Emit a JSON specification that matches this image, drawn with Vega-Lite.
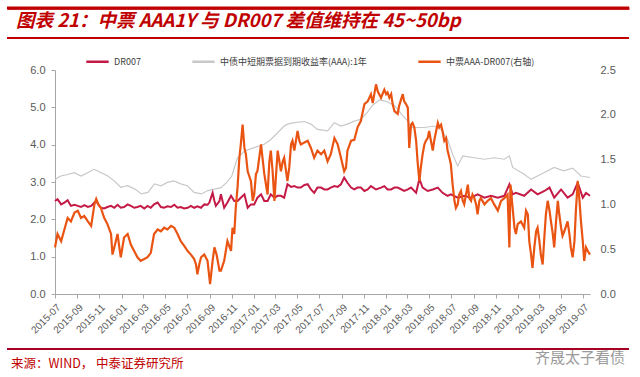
{
  "$schema": "https://vega.github.io/schema/vega-lite/v6.json",
  "background": "white",
  "padding": {"left": 5, "top": 4, "right": 5, "bottom": 0},
  "spacing": 12,
  "config": {"view": {"stroke": null}, "font": "Liberation Sans"},
  "datasets": {
    "aaa": [
      {"d":"2015-07-01","v":3.07},{"d":"2015-07-17","v":3.16},{"d":"2015-08-05","v":3.2},{"d":"2015-08-23","v":3.25},{"d":"2015-09-11","v":3.16},{"d":"2015-09-29","v":3.25},{"d":"2015-10-17","v":3.34},{"d":"2015-11-06","v":3.25},{"d":"2015-11-24","v":3.16},{"d":"2015-12-12","v":3.03},{"d":"2015-12-30","v":2.86},{"d":"2016-01-18","v":2.9},{"d":"2016-02-07","v":2.81},{"d":"2016-02-25","v":2.68},{"d":"2016-03-14","v":2.72},{"d":"2016-04-01","v":2.95},{"d":"2016-04-19","v":2.9},{"d":"2016-05-07","v":2.99},{"d":"2016-05-25","v":3.03},{"d":"2016-06-13","v":2.95},{"d":"2016-07-01","v":2.9},{"d":"2016-07-20","v":2.72},{"d":"2016-08-09","v":2.68},{"d":"2016-08-27","v":2.77},{"d":"2016-09-15","v":2.81},{"d":"2016-10-02","v":2.85},{"d":"2016-10-18","v":2.99},{"d":"2016-11-01","v":3.16},{"d":"2016-11-08","v":3.38},{"d":"2016-11-17","v":3.65},{"d":"2016-12-06","v":3.83},{"d":"2017-01-02","v":3.92},{"d":"2017-01-30","v":4.01},{"d":"2017-02-17","v":4.14},{"d":"2017-03-08","v":4.32},{"d":"2017-03-26","v":4.5},{"d":"2017-04-04","v":4.55},{"d":"2017-04-23","v":4.59},{"d":"2017-05-21","v":4.62},{"d":"2017-06-08","v":4.55},{"d":"2017-06-26","v":4.41},{"d":"2017-07-24","v":4.37},{"d":"2017-08-12","v":4.59},{"d":"2017-08-30","v":4.5},{"d":"2017-09-17","v":4.55},{"d":"2017-10-06","v":4.63},{"d":"2017-10-24","v":4.68},{"d":"2017-11-10","v":4.85},{"d":"2017-11-25","v":5.05},{"d":"2017-12-15","v":5.2},{"d":"2018-01-05","v":5.15},{"d":"2018-01-25","v":5.05},{"d":"2018-02-15","v":4.8},{"d":"2018-03-01","v":4.65},{"d":"2018-03-15","v":4.46},{"d":"2018-04-18","v":4.46},{"d":"2018-05-15","v":4.5},{"d":"2018-06-03","v":4.41},{"d":"2018-06-21","v":4.14},{"d":"2018-07-05","v":3.74},{"d":"2018-07-19","v":3.43},{"d":"2018-08-02","v":3.7},{"d":"2018-09-03","v":3.65},{"d":"2018-10-01","v":3.61},{"d":"2018-10-28","v":3.65},{"d":"2018-11-25","v":3.61},{"d":"2018-12-09","v":3.7},{"d":"2018-12-18","v":3.39},{"d":"2019-01-19","v":3.21},{"d":"2019-02-07","v":3.07},{"d":"2019-03-06","v":3.21},{"d":"2019-04-12","v":3.39},{"d":"2019-05-08","v":3.3},{"d":"2019-06-02","v":3.37},{"d":"2019-06-25","v":3.16},{"d":"2019-07-20","v":3.12}
    ],
    "dr": [
      {"d":"2015-07-01","v":2.49},{"d":"2015-07-08","v":2.54},{"d":"2015-07-18","v":2.4},{"d":"2015-07-27","v":2.45},{"d":"2015-08-05","v":2.51},{"d":"2015-08-14","v":2.36},{"d":"2015-08-24","v":2.39},{"d":"2015-09-02","v":2.36},{"d":"2015-09-11","v":2.33},{"d":"2015-09-20","v":2.38},{"d":"2015-09-30","v":2.33},{"d":"2015-10-09","v":2.36},{"d":"2015-10-18","v":2.45},{"d":"2015-10-23","v":2.49},{"d":"2015-10-29","v":2.39},{"d":"2015-11-05","v":2.31},{"d":"2015-11-14","v":2.29},{"d":"2015-11-23","v":2.33},{"d":"2015-12-03","v":2.36},{"d":"2015-12-12","v":2.31},{"d":"2015-12-21","v":2.39},{"d":"2015-12-30","v":2.31},{"d":"2016-01-08","v":2.33},{"d":"2016-01-18","v":2.4},{"d":"2016-01-27","v":2.36},{"d":"2016-02-05","v":2.31},{"d":"2016-02-14","v":2.33},{"d":"2016-02-23","v":2.36},{"d":"2016-03-04","v":2.29},{"d":"2016-03-13","v":2.36},{"d":"2016-03-22","v":2.31},{"d":"2016-03-31","v":2.4},{"d":"2016-04-10","v":2.45},{"d":"2016-04-19","v":2.33},{"d":"2016-04-28","v":2.31},{"d":"2016-05-07","v":2.35},{"d":"2016-05-17","v":2.33},{"d":"2016-05-26","v":2.39},{"d":"2016-06-04","v":2.31},{"d":"2016-06-13","v":2.33},{"d":"2016-06-22","v":2.29},{"d":"2016-07-02","v":2.31},{"d":"2016-07-11","v":2.36},{"d":"2016-07-20","v":2.31},{"d":"2016-07-29","v":2.35},{"d":"2016-08-08","v":2.31},{"d":"2016-08-17","v":2.4},{"d":"2016-08-26","v":2.39},{"d":"2016-08-31","v":2.45},{"d":"2016-09-09","v":2.71},{"d":"2016-09-14","v":2.49},{"d":"2016-09-18","v":2.36},{"d":"2016-09-28","v":2.49},{"d":"2016-10-02","v":2.67},{"d":"2016-10-11","v":2.31},{"d":"2016-10-20","v":2.45},{"d":"2016-10-30","v":2.63},{"d":"2016-11-08","v":2.49},{"d":"2016-11-17","v":2.49},{"d":"2016-11-26","v":2.58},{"d":"2016-12-06","v":2.67},{"d":"2016-12-15","v":2.31},{"d":"2016-12-24","v":2.4},{"d":"2017-01-02","v":2.4},{"d":"2017-01-11","v":2.58},{"d":"2017-01-21","v":2.67},{"d":"2017-01-30","v":2.49},{"d":"2017-02-08","v":2.49},{"d":"2017-02-17","v":2.67},{"d":"2017-02-27","v":2.58},{"d":"2017-03-08","v":2.63},{"d":"2017-03-17","v":2.63},{"d":"2017-03-26","v":2.58},{"d":"2017-04-04","v":2.94},{"d":"2017-04-14","v":2.87},{"d":"2017-04-23","v":2.89},{"d":"2017-05-02","v":2.85},{"d":"2017-05-11","v":2.85},{"d":"2017-05-21","v":2.92},{"d":"2017-05-30","v":2.94},{"d":"2017-06-08","v":2.8},{"d":"2017-06-17","v":2.71},{"d":"2017-06-26","v":2.85},{"d":"2017-07-06","v":2.85},{"d":"2017-07-15","v":2.8},{"d":"2017-07-24","v":2.8},{"d":"2017-08-02","v":2.85},{"d":"2017-08-12","v":2.89},{"d":"2017-08-21","v":2.87},{"d":"2017-08-30","v":2.94},{"d":"2017-09-08","v":3.12},{"d":"2017-09-17","v":2.98},{"d":"2017-09-27","v":2.85},{"d":"2017-10-06","v":2.8},{"d":"2017-10-15","v":2.85},{"d":"2017-10-24","v":2.85},{"d":"2017-11-03","v":2.76},{"d":"2017-11-12","v":2.8},{"d":"2017-11-21","v":2.89},{"d":"2017-12-05","v":2.8},{"d":"2017-12-19","v":2.85},{"d":"2017-12-28","v":2.89},{"d":"2018-01-06","v":2.8},{"d":"2018-01-16","v":2.8},{"d":"2018-01-25","v":2.85},{"d":"2018-02-03","v":2.85},{"d":"2018-02-21","v":2.76},{"d":"2018-03-03","v":2.8},{"d":"2018-03-12","v":2.85},{"d":"2018-03-26","v":2.71},{"d":"2018-04-04","v":3.08},{"d":"2018-04-13","v":2.85},{"d":"2018-04-27","v":2.76},{"d":"2018-05-11","v":2.8},{"d":"2018-05-25","v":2.85},{"d":"2018-06-07","v":2.71},{"d":"2018-06-21","v":2.63},{"d":"2018-06-30","v":2.67},{"d":"2018-07-19","v":2.58},{"d":"2018-08-06","v":2.63},{"d":"2018-08-25","v":2.58},{"d":"2018-09-12","v":2.67},{"d":"2018-10-01","v":2.58},{"d":"2018-10-19","v":2.63},{"d":"2018-11-07","v":2.58},{"d":"2018-11-25","v":2.63},{"d":"2018-12-09","v":2.94},{"d":"2018-12-18","v":2.67},{"d":"2018-12-27","v":2.71},{"d":"2019-01-19","v":2.63},{"d":"2019-02-07","v":2.8},{"d":"2019-02-25","v":2.67},{"d":"2019-03-16","v":2.76},{"d":"2019-03-30","v":2.85},{"d":"2019-04-12","v":2.58},{"d":"2019-05-01","v":2.8},{"d":"2019-05-19","v":2.58},{"d":"2019-06-02","v":2.67},{"d":"2019-06-16","v":2.98},{"d":"2019-06-30","v":2.58},{"d":"2019-07-09","v":2.71},{"d":"2019-07-20","v":2.63}
    ],
    "sp": [
      {"d":"2015-07-01","v":0.52},{"d":"2015-07-08","v":0.67},{"d":"2015-07-18","v":0.59},{"d":"2015-07-27","v":0.72},{"d":"2015-08-05","v":0.85},{"d":"2015-08-14","v":0.81},{"d":"2015-08-24","v":0.91},{"d":"2015-09-02","v":0.93},{"d":"2015-09-11","v":0.85},{"d":"2015-09-20","v":0.87},{"d":"2015-09-30","v":0.81},{"d":"2015-10-09","v":0.76},{"d":"2015-10-18","v":1.0},{"d":"2015-10-23","v":1.06},{"d":"2015-10-29","v":1.0},{"d":"2015-11-05","v":0.96},{"d":"2015-11-14","v":0.85},{"d":"2015-11-23","v":0.78},{"d":"2015-12-03","v":0.67},{"d":"2015-12-07","v":0.44},{"d":"2015-12-12","v":0.52},{"d":"2015-12-21","v":0.67},{"d":"2015-12-26","v":0.52},{"d":"2015-12-30","v":0.41},{"d":"2016-01-08","v":0.63},{"d":"2016-01-18","v":0.67},{"d":"2016-01-27","v":0.55},{"d":"2016-02-05","v":0.48},{"d":"2016-02-14","v":0.41},{"d":"2016-02-23","v":0.37},{"d":"2016-03-04","v":0.39},{"d":"2016-03-13","v":0.41},{"d":"2016-03-22","v":0.46},{"d":"2016-03-31","v":0.67},{"d":"2016-04-10","v":0.72},{"d":"2016-04-19","v":0.7},{"d":"2016-04-28","v":0.74},{"d":"2016-05-07","v":0.72},{"d":"2016-05-17","v":0.76},{"d":"2016-05-26","v":0.74},{"d":"2016-06-04","v":0.67},{"d":"2016-06-13","v":0.59},{"d":"2016-06-22","v":0.54},{"d":"2016-07-02","v":0.48},{"d":"2016-07-11","v":0.44},{"d":"2016-07-20","v":0.39},{"d":"2016-07-25","v":0.33},{"d":"2016-07-29","v":0.22},{"d":"2016-08-03","v":0.33},{"d":"2016-08-08","v":0.41},{"d":"2016-08-17","v":0.44},{"d":"2016-08-26","v":0.37},{"d":"2016-09-02","v":0.11},{"d":"2016-09-09","v":0.37},{"d":"2016-09-14","v":0.52},{"d":"2016-09-20","v":0.44},{"d":"2016-09-28","v":0.26},{"d":"2016-10-02","v":0.26},{"d":"2016-10-11","v":0.37},{"d":"2016-10-20","v":0.59},{"d":"2016-10-30","v":0.48},{"d":"2016-11-03","v":0.74},{"d":"2016-11-08","v":0.67},{"d":"2016-11-12","v":0.96},{"d":"2016-11-17","v":1.19},{"d":"2016-11-22","v":1.52},{"d":"2016-11-26","v":1.67},{"d":"2016-12-01","v":1.89},{"d":"2016-12-06","v":1.63},{"d":"2016-12-10","v":1.56},{"d":"2016-12-15","v":1.37},{"d":"2016-12-24","v":1.26},{"d":"2016-12-29","v":1.04},{"d":"2017-01-02","v":1.11},{"d":"2017-01-07","v":1.34},{"d":"2017-01-11","v":1.37},{"d":"2017-01-21","v":1.67},{"d":"2017-01-25","v":1.52},{"d":"2017-01-30","v":1.34},{"d":"2017-02-08","v":1.11},{"d":"2017-02-13","v":1.48},{"d":"2017-02-17","v":1.6},{"d":"2017-02-22","v":1.37},{"d":"2017-02-27","v":1.04},{"d":"2017-03-03","v":1.3},{"d":"2017-03-08","v":1.6},{"d":"2017-03-17","v":1.37},{"d":"2017-03-22","v":1.48},{"d":"2017-03-26","v":1.52},{"d":"2017-04-04","v":1.26},{"d":"2017-04-09","v":1.41},{"d":"2017-04-14","v":1.67},{"d":"2017-04-18","v":1.71},{"d":"2017-04-23","v":1.6},{"d":"2017-05-02","v":1.82},{"d":"2017-05-07","v":1.71},{"d":"2017-05-11","v":1.67},{"d":"2017-05-21","v":1.69},{"d":"2017-05-30","v":1.71},{"d":"2017-06-08","v":1.63},{"d":"2017-06-17","v":1.52},{"d":"2017-06-26","v":1.6},{"d":"2017-07-06","v":1.56},{"d":"2017-07-15","v":1.6},{"d":"2017-07-24","v":1.48},{"d":"2017-08-02","v":1.56},{"d":"2017-08-12","v":1.74},{"d":"2017-08-21","v":1.67},{"d":"2017-08-30","v":1.52},{"d":"2017-09-08","v":1.37},{"d":"2017-09-13","v":1.41},{"d":"2017-09-17","v":1.6},{"d":"2017-09-27","v":1.71},{"d":"2017-10-06","v":1.72},{"d":"2017-10-15","v":1.86},{"d":"2017-10-24","v":1.93},{"d":"2017-11-03","v":2.12},{"d":"2017-11-12","v":2.15},{"d":"2017-11-21","v":2.23},{"d":"2017-11-26","v":2.13},{"d":"2017-12-05","v":2.34},{"d":"2017-12-10","v":2.26},{"d":"2017-12-19","v":2.19},{"d":"2017-12-28","v":2.28},{"d":"2018-01-02","v":2.23},{"d":"2018-01-06","v":2.25},{"d":"2018-01-11","v":2.19},{"d":"2018-01-16","v":2.23},{"d":"2018-01-20","v":2.12},{"d":"2018-01-25","v":2.04},{"d":"2018-02-03","v":2.01},{"d":"2018-02-07","v":2.1},{"d":"2018-02-17","v":2.23},{"d":"2018-02-21","v":2.15},{"d":"2018-02-26","v":2.12},{"d":"2018-03-03","v":2.08},{"d":"2018-03-07","v":1.63},{"d":"2018-03-12","v":1.89},{"d":"2018-03-16","v":1.91},{"d":"2018-03-21","v":1.86},{"d":"2018-03-26","v":1.71},{"d":"2018-03-30","v":1.48},{"d":"2018-04-04","v":1.26},{"d":"2018-04-08","v":1.41},{"d":"2018-04-13","v":1.56},{"d":"2018-04-18","v":1.67},{"d":"2018-04-22","v":1.71},{"d":"2018-04-27","v":1.74},{"d":"2018-05-01","v":1.82},{"d":"2018-05-06","v":1.71},{"d":"2018-05-11","v":1.6},{"d":"2018-05-15","v":1.71},{"d":"2018-05-25","v":1.91},{"d":"2018-05-29","v":1.86},{"d":"2018-06-03","v":1.89},{"d":"2018-06-07","v":1.82},{"d":"2018-06-12","v":1.71},{"d":"2018-06-17","v":1.74},{"d":"2018-06-21","v":1.6},{"d":"2018-06-26","v":1.52},{"d":"2018-06-30","v":1.45},{"d":"2018-07-05","v":1.22},{"d":"2018-07-10","v":1.04},{"d":"2018-07-14","v":0.96},{"d":"2018-07-19","v":1.0},{"d":"2018-07-23","v":1.11},{"d":"2018-07-28","v":1.15},{"d":"2018-08-02","v":1.04},{"d":"2018-08-06","v":1.0},{"d":"2018-08-16","v":1.22},{"d":"2018-08-20","v":1.07},{"d":"2018-08-25","v":1.04},{"d":"2018-08-29","v":1.11},{"d":"2018-09-03","v":1.07},{"d":"2018-09-08","v":1.0},{"d":"2018-09-12","v":0.89},{"d":"2018-09-17","v":1.04},{"d":"2018-09-21","v":1.07},{"d":"2018-10-01","v":1.0},{"d":"2018-10-10","v":1.04},{"d":"2018-10-19","v":1.07},{"d":"2018-10-28","v":1.0},{"d":"2018-11-07","v":0.93},{"d":"2018-11-16","v":1.04},{"d":"2018-11-25","v":1.07},{"d":"2018-12-04","v":1.11},{"d":"2018-12-09","v":0.52},{"d":"2018-12-12","v":1.22},{"d":"2018-12-18","v":0.96},{"d":"2018-12-23","v":0.74},{"d":"2018-12-27","v":0.67},{"d":"2019-01-01","v":0.78},{"d":"2019-01-10","v":0.81},{"d":"2019-01-19","v":0.74},{"d":"2019-01-24","v":0.93},{"d":"2019-01-29","v":0.89},{"d":"2019-02-02","v":0.59},{"d":"2019-02-07","v":0.44},{"d":"2019-02-11","v":0.29},{"d":"2019-02-16","v":0.52},{"d":"2019-02-21","v":0.7},{"d":"2019-02-25","v":0.74},{"d":"2019-03-02","v":0.59},{"d":"2019-03-06","v":0.44},{"d":"2019-03-11","v":0.33},{"d":"2019-03-16","v":0.65},{"d":"2019-03-20","v":0.89},{"d":"2019-03-25","v":1.04},{"d":"2019-03-30","v":0.93},{"d":"2019-04-03","v":0.81},{"d":"2019-04-08","v":0.67},{"d":"2019-04-12","v":0.52},{"d":"2019-04-17","v":0.81},{"d":"2019-04-22","v":1.04},{"d":"2019-04-26","v":0.89},{"d":"2019-05-01","v":0.74},{"d":"2019-05-05","v":0.65},{"d":"2019-05-10","v":0.7},{"d":"2019-05-19","v":0.81},{"d":"2019-05-24","v":0.67},{"d":"2019-05-28","v":0.52},{"d":"2019-06-02","v":0.41},{"d":"2019-06-07","v":0.59},{"d":"2019-06-11","v":0.93},{"d":"2019-06-16","v":1.26},{"d":"2019-06-21","v":1.04},{"d":"2019-06-25","v":0.81},{"d":"2019-06-30","v":0.59},{"d":"2019-07-04","v":0.37},{"d":"2019-07-09","v":0.52},{"d":"2019-07-14","v":0.48},{"d":"2019-07-20","v":0.44}
    ]
  },
  "vconcat": [
    {
      "width": 574,
      "height": 48,
      "data": {"values": [{"t": "图表 21：中票 AAA1Y 与 DR007 差值维持在 45~50bp"}]},
      "encoding": {
        "x": {"datum": 0, "type": "quantitative", "scale": {"domain": [0, 1], "range": [-48, 574]}, "axis": {"orient": "top", "domain": true, "domainColor": "#C00000", "domainWidth": 2.5, "ticks": false, "labels": false, "grid": false, "title": null, "offset": -4, "minExtent": 0, "maxExtent": 0}},
        "y": {"datum": 31, "type": "quantitative", "scale": {"domain": [0, 48], "nice": false, "zero": false}, "axis": null}
      },
      "layer": [
        {
          "mark": {"type": "rule", "color": "#C00000", "strokeWidth": 3},
          "encoding": {"x2": {"datum": 1}, "y": {"datum": 44, "type": "quantitative"}}
        },
        {
          "mark": {"type": "rule", "color": "#C00000", "strokeWidth": 2},
          "encoding": {"x2": {"datum": 1}, "y": {"datum": 14, "type": "quantitative"}}
        },
        {
          "mark": {"type": "text", "align": "left", "baseline": "middle", "dx": 9, "font": "Noto Sans CJK SC", "fontSize": 18.5, "fontWeight": "bold", "fontStyle": "italic", "color": "#C00000"},
          "encoding": {"text": {"field": "t"}}
        }
      ]
    },
    {
      "width": 535,
      "height": 224,
      "encoding": {
        "x": {"field": "d", "type": "temporal", "scale": {"type": "utc", "domain": [{"year": 2015, "month": 7, "date": 1, "utc": true}, {"year": 2019, "month": 7, "date": 20, "utc": true}]},
          "axis": {"format": "%Y-%m", "tickCount": {"interval": "month", "step": 2}, "labelAngle": -45, "labelFontSize": 10, "labelColor": "#595959", "domainColor": "#A6A6A6", "tickColor": "#A6A6A6", "tickSize": 4, "grid": false, "title": null, "labelPadding": 4, "labelOverlap": false, "labelFlush": false, "labelBound": false}}
      },
      "layer": [
        {
          "encoding": {
            "y": {"field": "v", "type": "quantitative", "scale": {"domain": [0, 6], "nice": false}, "axis": {"values": [0, 1, 2, 3, 4, 5, 6], "format": ".1f", "labelFontSize": 11, "labelColor": "#595959", "domainColor": "#A6A6A6", "tickColor": "#A6A6A6", "tickSize": 4, "labelPadding": 6, "grid": false, "title": null, "labelOverlap": false, "minExtent": 49, "maxExtent": 49}}
          },
          "layer": [
            {
              "data": {"name": "aaa"},
              "mark": {"type": "line", "strokeWidth": 1.2},
              "encoding": {"color": {"datum": "中债中短期票据到期收益率(AAA):1年", "type": "nominal"}}
            },
            {
              "data": {"name": "dr"},
              "mark": {"type": "line", "strokeWidth": 2},
              "encoding": {"color": {"datum": "DR007", "type": "nominal"}}
            }
          ]
        },
        {
          "data": {"name": "sp"},
          "mark": {"type": "line", "strokeWidth": 2.2},
          "encoding": {
            "y": {"field": "v", "type": "quantitative", "scale": {"domain": [0, 2.5], "nice": false}, "axis": {"orient": "right", "values": [0, 0.5, 1, 1.5, 2, 2.5], "format": ".1f", "labelFontSize": 11, "labelColor": "#595959", "domain": false, "ticks": false, "labelPadding": 10, "grid": false, "title": null, "labelOverlap": false}},
            "color": {"datum": "中票AAA-DR007(右轴)", "type": "nominal",
              "scale": {"domain": ["DR007", "中债中短期票据到期收益率(AAA):1年", "中票AAA-DR007(右轴)"], "range": ["#C41A46", "#C8C8C8", "#EA5413"]},
              "legend": {"orient": "none", "legendX": 30, "legendY": 45, "direction": "horizontal", "title": null, "symbolType": "stroke", "symbolSize": 500, "symbolStrokeWidth": 2.5, "labelFont": "Noto Sans CJK SC", "labelFontSize": 9, "labelColor": "#404040", "columnPadding": 46, "labelOffset": 4, "labelLimit": 300}}
          }
        }
      ],
      "resolve": {"scale": {"y": "independent"}, "axis": {"y": "independent"}}
    },
    {
      "width": 574,
      "height": 24,
      "data": {"values": [{"t": "来源：WIND， 中泰证券研究所", "w": "齐晟太子看债"}]},
      "encoding": {
        "x": {"datum": 0, "type": "quantitative", "scale": {"domain": [0, 1], "range": [-48, 574]}, "axis": null},
        "y": {"datum": 9, "type": "quantitative", "scale": {"domain": [0, 24], "nice": false, "zero": false}, "axis": null}
      },
      "layer": [
        {
          "mark": {"type": "rule", "color": "#A50021", "strokeWidth": 2},
          "encoding": {"x2": {"datum": 1}, "y": {"datum": 24, "type": "quantitative"}}
        },
        {
          "mark": {"type": "text", "align": "left", "baseline": "middle", "dx": 4, "font": "Noto Sans CJK SC", "fontSize": 12.5, "color": "#C00000"},
          "encoding": {"text": {"field": "t"}}
        },
        {
          "mark": {"type": "text", "align": "right", "baseline": "middle", "dx": -4, "dy": -6, "font": "Noto Sans CJK SC", "fontSize": 15, "color": "#9A9A9A"},
          "encoding": {"x": {"datum": 1, "type": "quantitative"}, "text": {"field": "w"}}
        }
      ]
    }
  ]
}
